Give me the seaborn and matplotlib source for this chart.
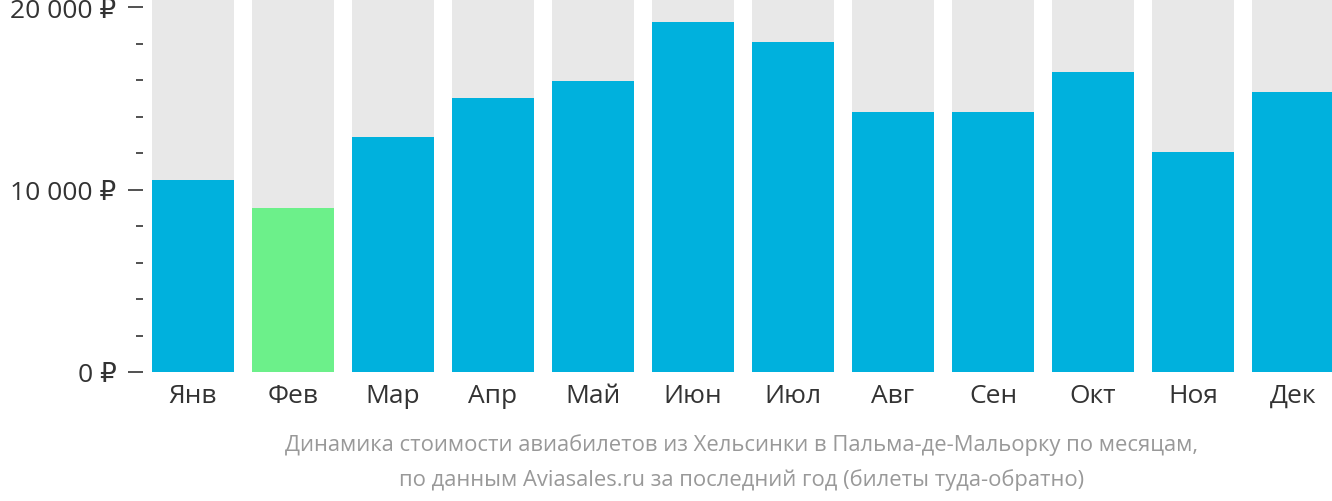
import matplotlib
matplotlib.use("Agg")
import matplotlib.pyplot as plt
import seaborn as sns
import pandas as pd
from matplotlib.ticker import MultipleLocator, FuncFormatter

months = ["Янв", "Фев", "Мар", "Апр", "Май", "Июн", "Июл", "Авг", "Сен", "Окт", "Ноя", "Дек"]
prices = [10520, 8990, 12880, 15010, 15950, 19180, 18080, 14250, 14250, 16440, 12050, 15340]
y_ticks = [0, 10000, 20000]
caption = ["Динамика стоимости авиабилетов из Хельсинки в Пальма-де-Мальорку по месяцам,",
           "по данным Aviasales.ru за последний год (билеты туда-обратно)"]

BLUE = "#00b1dd"
GREEN = "#6cf08a"
GREY = "#e8e8e8"
TEXT = "#333333"

sns.set_style("white")
plt.rcParams["font.family"] = ["Open Sans", "DejaVu Sans"]

W, H = 1332, 502
fig = plt.figure(figsize=(W / 100, H / 100), dpi=100)
ax = fig.add_axes([143 / W, 1 - 373 / H, 1200 / W, 373 / H])

ymax = 20440
df = pd.DataFrame({"month": months, "price": prices, "bg": [ymax] * len(months)})
min_price = min(prices)
palette = {m: (GREEN if p == min_price else BLUE) for m, p in zip(months, prices)}

sns.barplot(data=df, x="month", y="bg", color=GREY, width=0.82, ax=ax,
            saturation=1, linewidth=0, errorbar=None)
sns.barplot(data=df, x="month", y="price", hue="month", palette=palette, width=0.82,
            ax=ax, saturation=1, linewidth=0, legend=False, errorbar=None)

ax.set_xlim(-0.5, 11.5)
ax.set_ylim(0, ymax)
ax.set_xlabel("")
ax.set_ylabel("")
for s in ax.spines.values():
    s.set_visible(False)

ax.yaxis.set_major_locator(MultipleLocator(10000))
ax.yaxis.set_minor_locator(MultipleLocator(2000))
ax.yaxis.set_major_formatter(FuncFormatter(lambda v, p: f"{int(v):,}".replace(",", " ") + " ₽"))
ax.tick_params(axis="y", which="major", length=11, width=1.2, color=TEXT, pad=8,
               labelsize=19, labelcolor=TEXT, left=True)
ax.tick_params(axis="y", which="minor", length=5, width=1.2, color=TEXT, left=True)
ax.tick_params(axis="x", length=0, pad=8, labelsize=19, labelcolor=TEXT)

fig.text(741.5 / W, 1 - 445 / H, caption[0], ha="center", va="center", color="#999999",
         fontsize=15.8, family=["Liberation Sans Narrow", "Open Sans", "DejaVu Sans"])
fig.text(741.5 / W, 1 - 480 / H, caption[1], ha="center", va="center", color="#999999",
         fontsize=15.8, family=["Liberation Sans Narrow", "Open Sans", "DejaVu Sans"])

fig.savefig("out.png", dpi=100)
